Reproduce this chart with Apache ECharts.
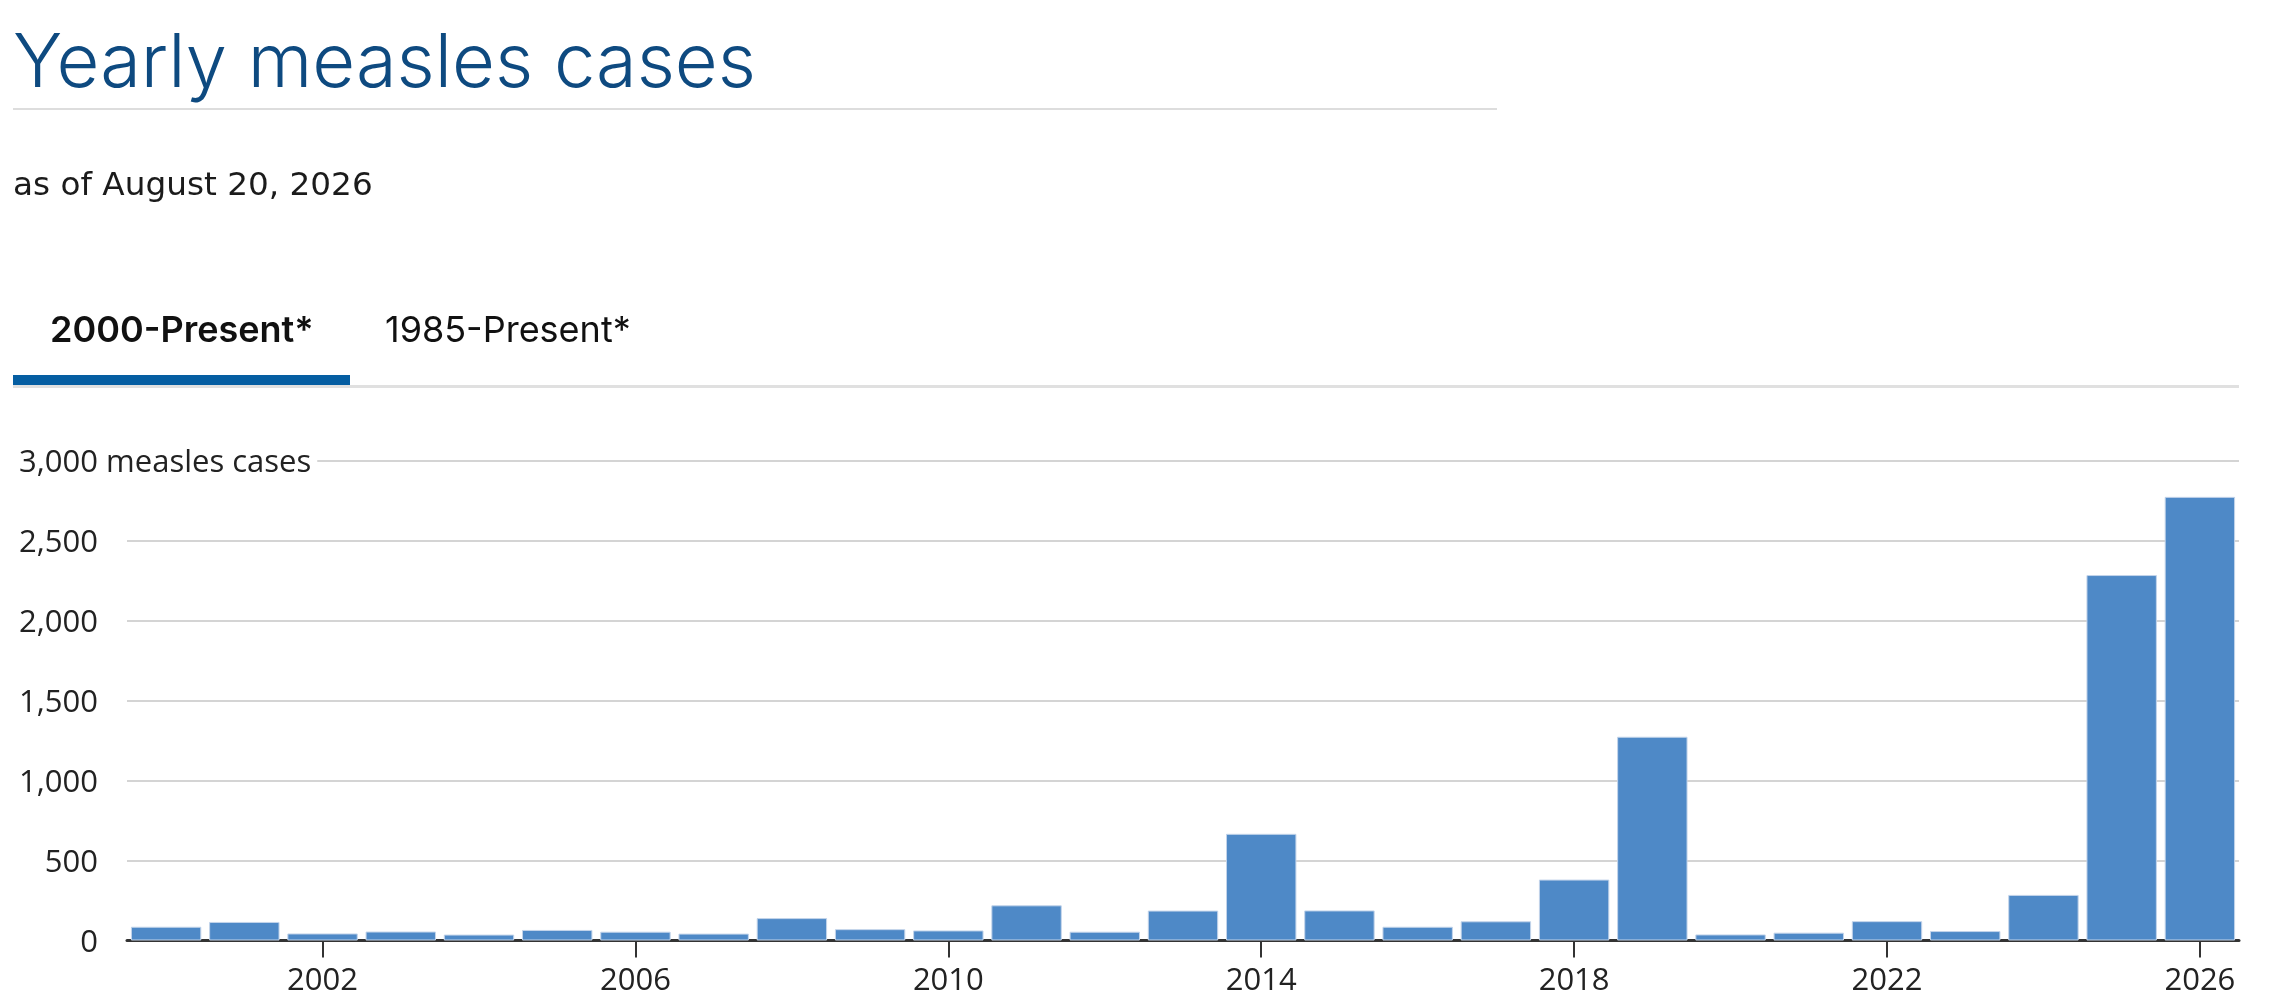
<!DOCTYPE html>
<html>
<head>
<meta charset="utf-8">
<script src="https://cdn.jsdelivr.net/npm/echarts@6/dist/echarts.min.js"></script>
<style>
html,body{margin:0;padding:0;background:#ffffff;}
#chart{width:2284px;height:1002px;}
</style>
</head>
<body>
<div id="chart"></div>
<script>
// ---- text ----
const titleText = 'Yearly measles cases';
const subtitleText = 'as of August 20, 2026';
const tabLabels = ['2000-Present*', '1985-Present*'];
const yUnit = 'measles cases';

// ---- data ----
const years = ['2000','2001','2002','2003','2004','2005','2006','2007','2008','2009',
               '2010','2011','2012','2013','2014','2015','2016','2017','2018','2019',
               '2020','2021','2022','2023','2024','2025','2026'];
const cases = [86, 116, 44, 56, 37, 66, 55, 43, 140, 71,
               63, 220, 55, 187, 667, 188, 86, 120, 381, 1274,
               38, 49, 121, 59, 285, 2285, 2774];
const yTicks = [0, 500, 1000, 1500, 2000, 2500, 3000];
const firstLabelledYear = '2002';
const labelStep = 4;

const chart = echarts.init(document.getElementById('chart'), null, {renderer: 'canvas', width: 2284, height: 1002});

const fmt = v => Number(v).toLocaleString('en-US');
const firstIdx = years.indexOf(firstLabelledYear);
const showIdx = idx => idx >= firstIdx && (idx - firstIdx) % labelStep === 0;
const yMax = yTicks[yTicks.length - 1];
const yStep = yTicks[1] - yTicks[0];

const headFont = 'Inter, "Noto Sans", sans-serif';
const subFont = '"DejaVu Sans", "Noto Sans", sans-serif';
const axisFont = '"Open Sans", "Noto Sans", sans-serif';

chart.setOption({
  animation: false,
  backgroundColor: '#ffffff',
  grid: {left: 127, right: 45, top: 460.7, bottom: 61.5, containLabel: false},
  graphic: [
    {type: 'text', x: 13, y: 65, silent: true,
     style: {text: titleText, fontFamily: headFont, fontWeight: 300, fontSize: 74, fill: '#0e4a80', verticalAlign: 'middle', align: 'left'}},
    {type: 'rect', silent: true, shape: {x: 13, y: 108, width: 1484, height: 2}, style: {fill: '#dddddd'}},
    {type: 'text', x: 13, y: 186.5, silent: true,
     style: {text: subtitleText, fontFamily: subFont, fontWeight: 400, fontSize: 32.7, fill: '#1b1b1b', verticalAlign: 'middle', align: 'left'}},
    {type: 'text', x: 50, y: 331, silent: true,
     style: {text: tabLabels[0], fontFamily: headFont, fontWeight: 600, fontSize: 36, fill: '#111111', verticalAlign: 'middle', align: 'left'}},
    {type: 'text', x: 385, y: 331, silent: true,
     style: {text: tabLabels[1], fontFamily: headFont, fontWeight: 400, fontSize: 36, fill: '#111111', verticalAlign: 'middle', align: 'left'}},
    {type: 'rect', silent: true, shape: {x: 13, y: 385, width: 2226, height: 3}, style: {fill: '#e0e0e0'}},
    {type: 'rect', silent: true, shape: {x: 13, y: 375, width: 337, height: 10}, style: {fill: '#055ea2'}}
  ],
  xAxis: {
    type: 'category',
    data: years,
    boundaryGap: true,
    axisLine: {show: true, lineStyle: {color: '#333333', width: 3}},
    axisTick: {show: true, alignWithLabel: true, length: 17, interval: showIdx, lineStyle: {color: '#333333', width: 2}},
    axisLabel: {interval: showIdx, margin: 25, fontFamily: axisFont, fontSize: 31, color: '#222222'},
    splitLine: {show: false}
  },
  yAxis: {
    type: 'value',
    min: 0,
    max: yMax,
    interval: yStep,
    axisLine: {show: false},
    axisTick: {show: false},
    splitLine: {show: true, lineStyle: {color: '#d4d4d4', width: 2}},
    axisLabel: {
      align: 'left',
      margin: 110,
      padding: [5, 0, 0, 0],
      fontFamily: axisFont,
      fontSize: 31,
      color: '#222222',
      formatter: v => v === yMax ? `{n|${fmt(v)}}{u| ${yUnit}}` : `{n|${fmt(v)}}`,
      rich: {
        n: {width: 81, align: 'right', fontFamily: axisFont, fontSize: 31, color: '#222222'},
        u: {align: 'right', fontFamily: axisFont, fontSize: 31, color: '#222222', backgroundColor: '#ffffff', padding: [2, 6, 2, 0]}
      }
    }
  },
  series: [{
    type: 'bar',
    data: cases,
    barCategoryGap: '10%',
    itemStyle: {color: '#4e89c7', borderColor: '#c3d4ea', borderWidth: 1},
    emphasis: {disabled: true}
  }]
});
</script>
</body>
</html>
